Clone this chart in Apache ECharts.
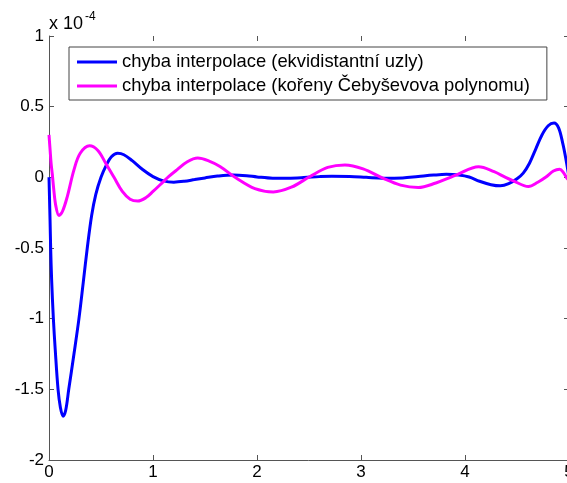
<!DOCTYPE html>
<html>
<head>
<meta charset="utf-8">
<script src="https://cdn.jsdelivr.net/npm/echarts@6/dist/echarts.min.js"></script>
<style>
html,body{margin:0;padding:0;background:#fff;}
#c{width:567px;height:483px;}
</style>
</head>
<body>
<div id="c"></div>
<script>
// Interpolation error, values in units of 1e-4
var seriesNames = ['chyba interpolace (ekvidistantní uzly)', 'chyba interpolace (kořeny Čebyševova polynomu)'];
var xTicks = [0, 1, 2, 3, 4, 5];
var yTicks = [-2, -1.5, -1, -0.5, 0, 0.5, 1];

var blueX = [0, 0.005, 0.01, 0.016, 0.025, 0.042, 0.06, 0.087, 0.11, 0.135, 0.16, 0.19, 0.24, 0.288, 0.33, 0.368, 0.41, 0.45, 0.5, 0.55, 0.6, 0.66, 0.72, 0.8, 0.9, 1.0, 1.1, 1.2, 1.3, 1.4, 1.5, 1.62, 1.77, 1.9, 2.0, 2.15, 2.3, 2.45, 2.6, 2.72, 2.89, 3.05, 3.21, 3.4, 3.55, 3.7, 3.82, 3.94, 4.04, 4.14, 4.25, 4.34, 4.42, 4.5, 4.56, 4.62, 4.68, 4.74, 4.8, 4.856, 4.9, 4.94, 4.97, 5.0];
var blueY = [0, -0.15, -0.3, -0.5, -0.72, -1.0, -1.22, -1.5, -1.63, -1.69, -1.65, -1.5, -1.25, -1.0, -0.74, -0.5, -0.27, -0.12, 0, 0.085, 0.145, 0.17, 0.16, 0.118, 0.055, 0.005, -0.025, -0.034, -0.028, -0.016, -0.004, 0.009, 0.017, 0.012, 0.003, -0.006, -0.006, -0.002, 0.005, 0.008, 0.006, 0.0, -0.006, -0.004, 0.006, 0.016, 0.021, 0.016, 0.002, -0.028, -0.052, -0.06, -0.045, -0.01, 0.03, 0.1, 0.2, 0.3, 0.365, 0.384, 0.35, 0.24, 0.13, 0];

var magX = [0, 0.01, 0.02, 0.032, 0.045, 0.065, 0.096, 0.13, 0.176, 0.24, 0.3, 0.39, 0.47, 0.545, 0.625, 0.705, 0.78, 0.853, 0.93, 1.0, 1.1, 1.15, 1.23, 1.33, 1.43, 1.54, 1.644, 1.8, 1.98, 2.157, 2.33, 2.51, 2.68, 2.846, 3.02, 3.21, 3.38, 3.55, 3.72, 3.86, 3.92, 4.13, 4.28, 4.39, 4.46, 4.61, 4.7, 4.775, 4.85, 4.91, 4.95, 4.98, 5.0];
var magY = [0.30, 0.2, 0.1, 0.02, -0.08, -0.2, -0.27, -0.24, -0.136, 0.053, 0.17, 0.223, 0.19, 0.1, 0, -0.1, -0.155, -0.168, -0.145, -0.1, -0.03, 0.005, 0.053, 0.11, 0.136, 0.115, 0.077, -0.005, -0.08, -0.103, -0.07, 0.006, 0.07, 0.088, 0.06, -0.006, -0.055, -0.072, -0.04, 0, 0.018, 0.075, 0.04, 0, -0.023, -0.065, -0.035, 0, 0.045, 0.058, 0.03, -0.006, -0.02];

function zip(xs, ys) { return xs.map(function (x, i) { return [x, ys[i]]; }); }

var chart = echarts.init(document.getElementById('c'), null, { renderer: 'canvas' });
var font = 'Liberation Sans, Arial, sans-serif';
var axisCol = '#555';
var lineIcon = 'path://M0,0 L40,0 L40,3 L0,3 Z';

chart.setOption({
  animation: false,
  backgroundColor: '#fff',
  textStyle: { fontFamily: font },
  grid: { left: 49, top: 36, width: 520, height: 424, containLabel: false, outerBoundsMode: 'none' },
  legend: {
    orient: 'vertical',
    left: 69, top: 47,
    padding: [6, 17, 5, 8],
    itemWidth: 40, itemHeight: 3, itemGap: 6,
    borderColor: '#444', borderWidth: 1,
    backgroundColor: '#fff',
    textStyle: { fontFamily: font, fontSize: 18.4, color: '#000' },
    data: [
      { name: seriesNames[0], icon: lineIcon },
      { name: seriesNames[1], icon: lineIcon }
    ]
  },
  xAxis: [{
    type: 'value', min: xTicks[0], max: xTicks[xTicks.length - 1], interval: 1,
    axisLine: { show: true, onZero: false, lineStyle: { color: axisCol, width: 1 } },
    axisTick: { show: true, inside: true, length: 5, lineStyle: { color: axisCol } },
    axisLabel: { color: '#000', fontSize: 17, fontFamily: font, margin: 4 },
    splitLine: { show: false }
  }, {
    type: 'value', position: 'top', min: xTicks[0], max: xTicks[xTicks.length - 1], interval: 1,
    axisLine: { show: false, onZero: false },
    axisTick: { show: true, inside: true, length: 5, lineStyle: { color: axisCol } },
    axisLabel: { show: false },
    splitLine: { show: false }
  }],
  yAxis: [{
    type: 'value', min: yTicks[0], max: yTicks[yTicks.length - 1], interval: 0.5,
    axisLine: { show: true, onZero: false, lineStyle: { color: axisCol, width: 1 } },
    axisTick: { show: true, inside: true, length: 5, lineStyle: { color: axisCol } },
    axisLabel: { color: '#000', fontSize: 17, fontFamily: font, margin: 5 },
    splitLine: { show: false }
  }, {
    type: 'value', position: 'right', min: yTicks[0], max: yTicks[yTicks.length - 1], interval: 0.5,
    axisLine: { show: false, onZero: false },
    axisTick: { show: true, inside: true, length: 5, lineStyle: { color: axisCol } },
    axisLabel: { show: false },
    splitLine: { show: false }
  }],
  graphic: [
    { type: 'text', left: 49, top: 15, style: { text: 'x 10', font: '18px ' + font, fill: '#000' } },
    { type: 'text', left: 85, top: 11, style: { text: '-4', font: '12px ' + font, fill: '#000' } }
  ],
  series: [{
    name: seriesNames[0], type: 'line', data: zip(blueX, blueY),
    showSymbol: false, smooth: 0.35, clip: true,
    lineStyle: { color: '#0000ff', width: 3 }, itemStyle: { color: '#0000ff' }
  }, {
    name: seriesNames[1], type: 'line', data: zip(magX, magY),
    showSymbol: false, smooth: 0.35, clip: true,
    lineStyle: { color: '#ff00ff', width: 3 }, itemStyle: { color: '#ff00ff' }
  }]
});
</script>
</body>
</html>
